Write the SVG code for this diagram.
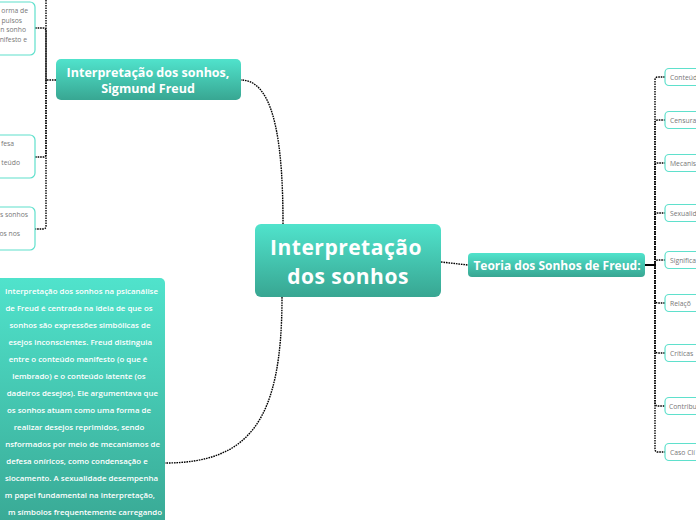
<svg xmlns="http://www.w3.org/2000/svg" width="696" height="520" viewBox="0 0 696 520">
<defs>
<linearGradient id="g" x1="0" y1="0" x2="0" y2="1">
<stop offset="0" stop-color="#50e3cc"/>
<stop offset="1" stop-color="#38a692"/>
</linearGradient>
<style>
.c{fill:none;stroke:#000;stroke-width:1.4;stroke-dasharray:1.6 0.9}
.n{fill:url(#g)}
.t{font-family:"Open Sans","Noto Sans",sans-serif;fill:#fff;font-weight:bold;text-anchor:middle}
.b{fill:#fff;stroke:#5fe0cc;stroke-width:1.2}
.s{font-family:"Open Sans","Noto Sans",sans-serif;fill:#777;font-size:6.8px}
.p{font-family:"Open Sans","Noto Sans",sans-serif;fill:#fff;font-size:7.9px;font-weight:600;text-anchor:middle}
.e{text-anchor:end}
</style>
</defs>
<g id="connectors">
<path class="c" d="M283,224 C283,150 276,80 241,80"/>
<path class="c" d="M282,297 C282,420 250,463 165,463"/>
<path class="c" d="M441,262 L468,265"/>
<path d="M645,265 H655" stroke="#000" stroke-width="2"/>
<path class="c" d="M655,265 V80 Q655,77 658,77 H665"/>
<path class="c" d="M655,265 V123 Q655,120 658,120 H665"/>
<path class="c" d="M655,265 V166 Q655,163 658,163 H665"/>
<path class="c" d="M655,265 V216 Q655,213 658,213 H665"/>
<path class="c" d="M655,265 V263 Q655,260 658,260 H665"/>
<path class="c" d="M655,265 V300 Q655,303 658,303 H665"/>
<path class="c" d="M655,265 V350 Q655,353 658,353 H665"/>
<path class="c" d="M655,265 V403 Q655,406 658,406 H665"/>
<path class="c" d="M655,265 V449 Q655,452 658,452 H665"/>
<path class="c" d="M56,80 H46"/>
<path class="c" d="M46,0 V80"/>
<path class="c" d="M46,80 V31 Q46,28 43,28 H35"/>
<path class="c" d="M46,80 V154 Q46,157 43,157 H35"/>
<path class="c" d="M46,80 V226 Q46,229 43,229 H35"/>
</g>
<g id="center">
<rect class="n" x="255" y="224" width="186" height="73" rx="6"/>
<text class="t" x="346" y="255" font-size="21" letter-spacing="0.5">Interpretação</text>
<text class="t" x="348" y="284" font-size="21" letter-spacing="0.5">dos sonhos</text>
</g>
<g id="freud">
<rect class="n" x="56" y="59" width="185" height="41" rx="5"/>
<text class="t" x="148" y="77" font-size="12.5">Interpretação dos sonhos,</text>
<text class="t" x="148" y="93" font-size="12.5">Sigmund Freud</text>
</g>
<g id="teoria">
<rect class="n" x="468" y="253" width="177" height="24" rx="4"/>
<text class="t" x="557" y="269.5" font-size="12">Teoria dos Sonhos de Freud:</text>
</g>
<g id="left1">
<rect class="b" x="-20" y="2" width="55" height="53" rx="5"/>
<text class="s e" x="28" y="12.5">orma de</text>
<text class="s e" x="22" y="22.5">pulsos</text>
<text class="s e" x="26" y="31.5">n sonho</text>
<text class="s e" x="27" y="41.5">nifesto e</text>
</g>
<g id="left2">
<rect class="b" x="-20" y="135" width="55" height="43" rx="5"/>
<text class="s e" x="14" y="145.5">fesa</text>
<text class="s e" x="20" y="164.5">teúdo</text>
</g>
<g id="left3">
<rect class="b" x="-20" y="207" width="55" height="43" rx="5"/>
<text class="s e" x="28" y="216.5">s sonhos</text>
<text class="s e" x="20" y="235.5">os nos</text>
</g>
<g id="r1"><rect class="b" x="665" y="68.5" width="60" height="17" rx="4"/><text class="s" x="670" y="79.5">Conteúd</text></g>
<g id="r2"><rect class="b" x="665" y="111.5" width="60" height="17" rx="4"/><text class="s" x="670" y="122.5">Censura</text></g>
<g id="r3"><rect class="b" x="665" y="154.5" width="60" height="17" rx="4"/><text class="s" x="670" y="165.5">Mecanis</text></g>
<g id="r4"><rect class="b" x="665" y="204.5" width="60" height="17" rx="4"/><text class="s" x="670" y="215.5">Sexualid</text></g>
<g id="r5"><rect class="b" x="665" y="251.5" width="60" height="17" rx="4"/><text class="s" x="670" y="262.5">Significa</text></g>
<g id="r6"><rect class="b" x="665" y="294.5" width="60" height="17" rx="4"/><text class="s" x="670" y="305.5">Relaçõ</text></g>
<g id="r7"><rect class="b" x="665" y="344.5" width="60" height="17" rx="4"/><text class="s" x="670" y="355.5">Críticas</text></g>
<g id="r8"><rect class="b" x="665" y="397.5" width="60" height="17" rx="4"/><text class="s" x="669" y="408.5" font-size="6.5">Contribu</text></g>
<g id="r9"><rect class="b" x="665" y="443.5" width="60" height="17" rx="4"/><text class="s" x="670" y="454.5">Caso Clí</text></g>
<g id="texto">
<rect class="n" x="-20" y="278" width="185" height="260" rx="5"/>
<text class="p e" x="158" y="294">Interpretação dos sonhos na psicanálise</text>
<text class="p" x="79" y="311">de Freud é centrada na ideia de que os</text>
<text class="p" x="80" y="328">sonhos são expressões simbólicas de</text>
<text class="p e" x="152" y="345">esejos inconscientes. Freud distinguia</text>
<text class="p" x="78" y="362">entre o conteúdo manifesto (o que é</text>
<text class="p" x="79" y="379">lembrado) e o conteúdo latente (os</text>
<text class="p e" x="158" y="396">dadeiros desejos). Ele argumentava que</text>
<text class="p" x="79" y="413">os sonhos atuam como uma forma de</text>
<text class="p" x="79" y="430">realizar desejos reprimidos, sendo</text>
<text class="p e" x="160" y="447">nsformados por meio de mecanismos de</text>
<text class="p" x="77" y="464">defesa oníricos, como condensação e</text>
<text class="p e" x="158" y="481">slocamento. A sexualidade desempenha</text>
<text class="p e" x="155" y="498">m papel fundamental na interpretação,</text>
<text class="p e" x="162" y="515">m símbolos frequentemente carregando</text>
</g>
</svg>
